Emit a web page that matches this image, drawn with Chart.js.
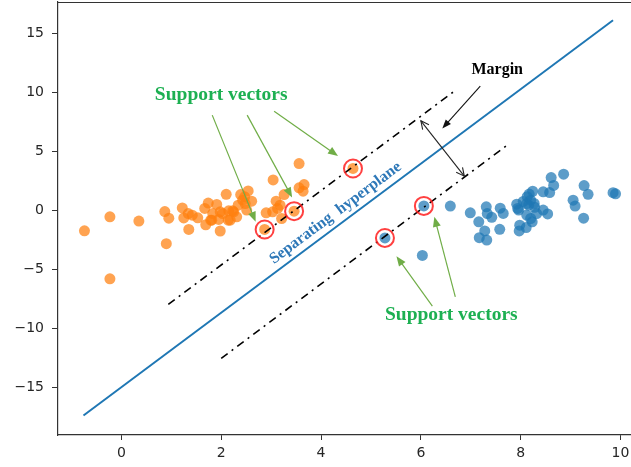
<!DOCTYPE html>
<html>
<head>
<meta charset="utf-8">
<script src="https://cdn.jsdelivr.net/npm/chart.js@4.4.1/dist/chart.umd.min.js"></script>
<style>
  html, body { margin: 0; padding: 0; background: #fff; overflow: hidden; }
  #wrap { width: 645px; height: 467px; }
</style>
</head>
<body>
<div id="wrap"><canvas id="c" width="645" height="467"></canvas></div>
<script>
// ---- Data ----
const orangeX = [-0.74,-0.23,-0.23,0.35,0.87,0.95,0.90,1.22,1.25,1.34,1.35,1.42,1.53,1.67,1.74,1.69,1.79,1.83,1.91,1.98,1.95,2.03,2.10,2.14,2.15,2.23,2.31,2.34,2.39,2.43,2.47,2.54,2.48,2.61,2.90,3.04,3.03,3.10,3.13,3.21,3.26,3.56,3.56,3.66,3.64,1.98,2.25,2.18,1.81,2.51,3.18,2.87,3.46,4.64];
const orangeY = [-1.69,-0.51,-5.76,-0.87,-0.06,-0.62,-2.78,0.25,-0.60,-0.23,-1.58,-0.37,-0.59,0.20,0.66,-1.18,-0.79,-0.23,0.54,-1.71,-0.73,-0.23,1.40,-0.79,0.00,0.00,-0.51,0.48,1.38,0.90,1.19,1.69,0.62,0.82,-0.17,2.62,-0.08,0.82,0.20,-0.65,1.38,4.01,1.95,2.23,1.67,-0.08,-0.08,-0.79,-0.79,0.06,0.48,-1.58,-0.03,3.59];
const blueX = [6.03,6.59,6.99,7.16,7.28,7.17,7.32,7.31,7.33,7.42,7.59,7.65,7.58,7.92,7.94,7.96,7.98,7.97,8.05,8.12,8.13,8.17,8.20,8.24,8.12,8.20,8.23,8.11,8.28,8.32,8.45,8.45,8.54,8.58,8.61,8.66,8.86,9.05,9.09,9.27,9.35,9.26,9.85,9.90,8.16,8.27,5.28,6.06];
const blueY = [-3.78,0.40,-0.17,-0.93,-1.70,-2.28,-2.48,0.34,-0.23,-0.55,0.22,-0.22,-1.57,0.56,0.20,0.06,-1.22,-1.70,0.80,0.62,1.20,1.42,0.90,1.66,-0.36,-0.65,-0.93,-1.42,0.30,-0.23,1.61,0.06,-0.26,1.55,2.82,2.15,3.11,0.90,0.40,2.14,1.40,-0.62,1.54,1.44,0.48,0.63,-2.30,0.42];
const supportX = [2.87,3.46,4.64,5.28,6.06];
const supportY = [-1.58,-0.03,3.59,-2.30,0.42];
const hyperX = [-0.76, 9.85];
const hyperY = [-17.35, 16.15];
const upperX = [0.94, 6.69];
const upperY = [-7.93, 10.20];
const lowerX = [2.00, 7.75];
const lowerY = [-12.50, 5.63];
const xTicks = [0, 2, 4, 6, 8, 10];
const yTicks = [-15, -10, -5, 0, 5, 10, 15];
// annotation anchors (data units)
const svArrowsFrom = [[1.82, 8.11], [2.52, 8.11], [3.06, 8.45], [6.23, -8.08], [6.69, -7.29]];
const svArrowsTo   = [[2.69, -0.93], [3.42, 1.14], [4.34, 4.64], [5.51, -3.84], [6.27, -0.51]];
const marginArrowFrom = [7.19, 10.57];
const marginArrowTo = [6.43, 6.98];
const marginSpanA = [6.00, 7.63];
const marginSpanB = [6.87, 2.94];
const labelTexts = ["Support vectors", "Support vectors", "Margin", "Separating  hyperplane"];
const labelPos = [[2.0, 9.8], [6.61, -8.85], [7.53, 11.92], [4.29, -0.19]];

const pts = (xs, ys) => xs.map((x, i) => ({ x: x, y: ys[i] }));

function arrow(ctx, x1, y1, x2, y2, color, lw, hl, hw, filled, both) {
  const a = Math.atan2(y2 - y1, x2 - x1);
  ctx.save();
  ctx.strokeStyle = color; ctx.fillStyle = color; ctx.lineWidth = lw;
  const sx = filled ? x2 - Math.cos(a) * hl * 0.8 : x2;
  const sy = filled ? y2 - Math.sin(a) * hl * 0.8 : y2;
  ctx.beginPath(); ctx.moveTo(x1, y1); ctx.lineTo(sx, sy); ctx.stroke();
  const head = (hx, hy, ang) => {
    const p1x = hx - Math.cos(ang) * hl + Math.sin(ang) * hw / 2;
    const p1y = hy - Math.sin(ang) * hl - Math.cos(ang) * hw / 2;
    const p2x = hx - Math.cos(ang) * hl - Math.sin(ang) * hw / 2;
    const p2y = hy - Math.sin(ang) * hl + Math.cos(ang) * hw / 2;
    ctx.beginPath();
    ctx.moveTo(p1x, p1y); ctx.lineTo(hx, hy); ctx.lineTo(p2x, p2y);
    if (filled) { ctx.closePath(); ctx.fill(); } else { ctx.stroke(); }
  };
  head(x2, y2, a);
  if (both) head(x1, y1, a + Math.PI);
  ctx.restore();
}

const annot = {
  id: 'annot',
  beforeDatasetsDraw(chart) {
    const { ctx, chartArea: ca } = chart;
    ctx.save();
    ctx.strokeStyle = '#333'; ctx.lineWidth = 1.2;
    ctx.beginPath();
    ctx.moveTo(ca.left, ca.top + 0.5); ctx.lineTo(ca.right, ca.top + 0.5);
    ctx.lineTo(ca.right - 0.5, ca.bottom);
    ctx.stroke();
    ctx.restore();
  },
  afterDatasetsDraw(chart) {
    const { ctx } = chart;
    const xs = chart.scales.x, ys = chart.scales.y;
    const px = p => [xs.getPixelForValue(p[0]), ys.getPixelForValue(p[1])];
    svArrowsFrom.forEach((f, i) => {
      const a = px(f), b = px(svArrowsTo[i]);
      arrow(ctx, a[0], a[1], b[0], b[1], '#70ad47', 1.2, 10, 8, true, false);
    });
    let a = px(marginArrowFrom), b = px(marginArrowTo);
    arrow(ctx, a[0], a[1], b[0], b[1], '#111', 1.1, 9, 7, true, false);
    a = px(marginSpanA); b = px(marginSpanB);
    arrow(ctx, a[0], a[1], b[0], b[1], '#222', 1.1, 8, 8, false, true);

    ctx.save();
    ctx.textAlign = 'center'; ctx.textBaseline = 'middle';
    ctx.fillStyle = '#1db052';
    ctx.font = 'bold 19.5px "Liberation Serif", serif';
    for (let i = 0; i < 2; i++) {
      const p = px(labelPos[i]);
      ctx.fillText(labelTexts[i], p[0], p[1]);
    }
    ctx.fillStyle = '#000';
    ctx.font = 'bold 16px "Liberation Serif", serif';
    let p = px(labelPos[2]);
    ctx.fillText(labelTexts[2], p[0], p[1]);
    const h1 = px([hyperX[0], hyperY[0]]), h2 = px([hyperX[1], hyperY[1]]);
    const ang = Math.atan2(h2[1] - h1[1], h2[0] - h1[0]);
    p = px(labelPos[3]);
    ctx.translate(p[0], p[1]); ctx.rotate(ang);
    ctx.fillStyle = '#2e78b8';
    ctx.font = 'bold 16px "Liberation Serif", serif';
    ctx.fillText(labelTexts[3], 0, 0);
    ctx.restore();
  }
};

const minus = v => (v < 0 ? '\u2212' + Math.abs(v) : String(v));
const zeroPad = s => { s.paddingTop = 0; s.paddingBottom = 0; s.paddingLeft = 0; s.paddingRight = 0; };

new Chart(document.getElementById('c'), {
  type: 'scatter',
  data: {
    datasets: [
      { label: 'sv', data: pts(supportX, supportY), order: 0, pointRadius: 9, pointHoverRadius: 9,
        backgroundColor: 'rgba(0,0,0,0)', borderColor: 'rgba(255,30,30,0.85)', borderWidth: 2 },
      { label: 'upper', type: 'line', data: pts(upperX, upperY), order: 1, showLine: true, pointRadius: 0,
        borderColor: '#000', borderWidth: 1.6, borderDash: [8, 5, 2, 5], fill: false },
      { label: 'lower', type: 'line', data: pts(lowerX, lowerY), order: 1, showLine: true, pointRadius: 0,
        borderColor: '#000', borderWidth: 1.6, borderDash: [8, 5, 2, 5], fill: false },
      { label: 'hyper', type: 'line', data: pts(hyperX, hyperY), order: 1, showLine: true, pointRadius: 0,
        borderColor: '#1f77b4', borderWidth: 2, fill: false },
      { label: 'class0', data: pts(orangeX, orangeY), order: 2, pointRadius: 5.5, borderWidth: 0,
        backgroundColor: 'rgba(255,127,14,0.72)' },
      { label: 'class1', data: pts(blueX, blueY), order: 2, pointRadius: 5.5, borderWidth: 0,
        backgroundColor: 'rgba(31,119,180,0.72)' }
    ]
  },
  options: {
    responsive: false,
    animation: false,
    devicePixelRatio: 1,
    layout: { autoPadding: false, padding: { top: 2, right: 9, left: 0, bottom: 0 } },
    plugins: { legend: { display: false }, tooltip: { enabled: false } },
    scales: {
      x: {
        type: 'linear', min: -1.27, max: 10.31,
        afterBuildTicks: s => { s.ticks = xTicks.map(v => ({ value: v })); },
        afterFit: s => { s.height = 32; zeroPad(s); },
        grid: { drawOnChartArea: false, drawTicks: true, tickLength: 5, color: '#333' },
        border: { display: true, color: '#333', width: 1.2 },
        ticks: { padding: 5, color: '#262626', font: { family: '"DejaVu Sans"', size: 14 }, callback: v => minus(v), maxRotation: 0 }
      },
      y: {
        type: 'linear', min: -19.0, max: 17.7,
        afterBuildTicks: s => { s.ticks = yTicks.map(v => ({ value: v })); },
        afterFit: s => { s.width = 58; zeroPad(s); },
        grid: { drawOnChartArea: false, drawTicks: true, tickLength: 6, color: '#333' },
        border: { display: true, color: '#333', width: 1.2 },
        ticks: { padding: 8, color: '#262626', font: { family: '"DejaVu Sans"', size: 14 }, callback: v => minus(v) }
      }
    }
  },
  plugins: [annot]
});
</script>
</body>
</html>
